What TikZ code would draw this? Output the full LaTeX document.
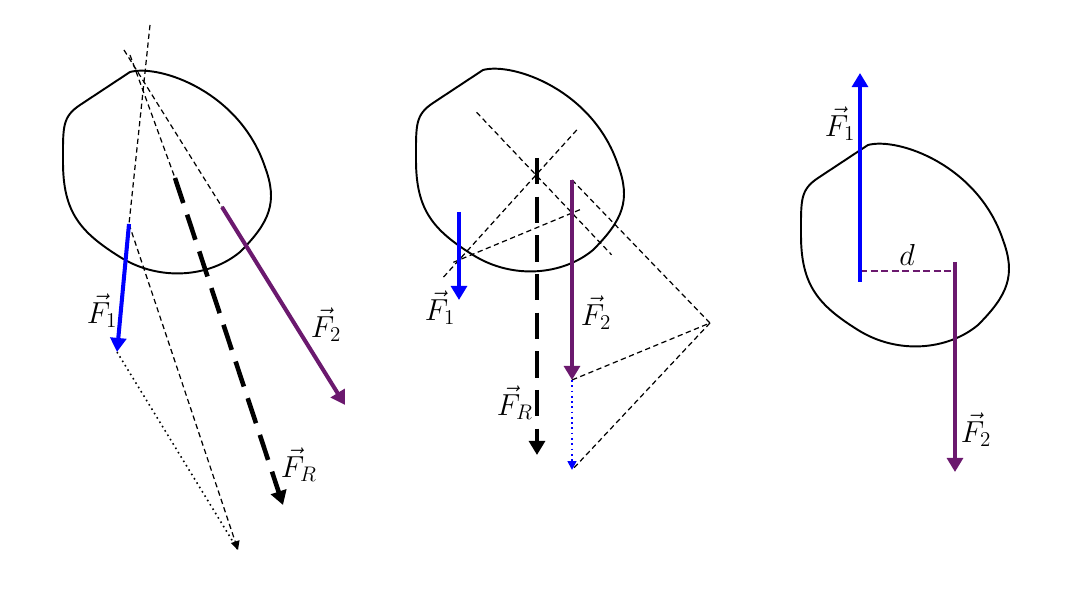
\documentclass[tikz,border=0pt]{standalone}
\usepackage{amsmath}
\usepackage{tikz}
\usetikzlibrary{arrows.meta}
\usetikzlibrary{calc}
\tikzset{body/.style = {line width = 1.1pt, line join = round}}
\tikzset{force/.style = {line width = 2.3pt, -{Triangle[length = 8pt, width = 9pt]}}}
\tikzset{resultant/.style = {force, line width = 2.6pt, dash pattern = on 15pt off 7pt}}
\tikzset{aux/.style = {line width = 0.7pt, dash pattern = on 3pt off 2pt}}
\tikzset{smalltip/.style = {-{Triangle[length = 5pt, width = 5pt]}}}
\tikzset{lbl/.style = {font = \LARGE, inner sep = 0}}
\definecolor{fblue}{rgb}{0, 0, 1}
\definecolor{fpurple}{rgb}{0.42, 0.1, 0.43}
\newcommand{\bodyoutline}{(0, 0) .. controls (30, -8) and (110, 20) .. (135, 95)
  .. controls (148, 130) and (140, 150) .. (110, 180)
  .. controls (80, 205) and (30, 210) .. (-10, 185)
  .. controls (-50, 160) and (-67, 140) .. (-67, 90)
  .. controls (-67, 55) and (-68, 45) .. (-50, 33) -- cycle}

\begin{document}
\begin{tikzpicture}[x = 0.02cm, y = -0.02cm]
    \useasboundingbox (0, 0) rectangle (1080, 591);

    \begin{scope}[shift = {(130, 72)}]
      \draw [body] \bodyoutline;
    \end{scope}
    \coordinate (ta) at (129, 224);
    \coordinate (ha) at (117, 352);
    \coordinate (tb) at (222, 207);
    \coordinate (hb) at (345, 405);
    \coordinate (tr) at (175, 178);
    \coordinate (hr) at (283, 505);
    \coordinate (sum) at (238, 550);
    \coordinate (ea) at (150, 25);
    \coordinate (eb) at (124, 50);
    \coordinate (er) at (130, 55);
    \draw [aux] (ea) -- (ta);
    \draw [aux] (eb) -- (tb);
    \draw [aux] (er) -- (tr);
    \draw [aux, smalltip] (ta) -- (sum);
    \draw [dotted, line width = 0.9pt] (ha) -- (sum);
    \draw [force, fblue] (ta) -- (ha);
    \draw [force, fpurple] (tb) -- (hb);
    \draw [resultant] (tr) -- (hr);
    \node [lbl] (la) at (102, 311) {$\vec{F}_1$};
    \node [lbl] (lb) at (326, 325) {$\vec{F}_2$};
    \node [lbl] (lr) at (299, 465) {$\vec{F}_R$};

    \begin{scope}[shift = {(483, 70)}]
      \draw [body] \bodyoutline;
    \end{scope}
    \coordinate (pa) at (459, 212);
    \coordinate (qa) at (459, 300);
    \coordinate (pb) at (572, 180);
    \coordinate (qb) at (572, 380);
    \coordinate (pr) at (537, 158);
    \coordinate (qr) at (537, 455);
    \coordinate (qs) at (572, 470);
    \coordinate (pole) at (710, 323);
    \coordinate (ka) at (536, 175);
    \coordinate (kb) at (572, 213);
    \coordinate (kc) at (459, 260);
    \draw [aux] ($(ka)!-1.65!(kb)$) -- ($(ka)!2.1!(kb)$);
    \draw [aux] ($(ka)!-0.53!(kc)$) -- ($(ka)!1.22!(kc)$);
    \draw [aux] ($(kc)!-0.05!(kb)$) -- ($(kc)!1.07!(kb)$);
    \draw [aux] (pb) -- (pole) -- (qb);
    \draw [aux] (pole) -- (qs);
    \draw [dotted, fblue, line width = 1pt, smalltip] (qb) -- (qs);
    \draw [force, fblue] (pa) -- (qa);
    \draw [force, fpurple] (pb) -- (qb);
    \draw [resultant] (pr) -- (qr);
    \node [lbl] (ma) at (440, 308) {$\vec{F}_1$};
    \node [lbl] (mb) at (596, 313) {$\vec{F}_2$};
    \node [lbl] (mr) at (515, 403) {$\vec{F}_R$};

    \begin{scope}[shift = {(868, 145)}]
      \draw [body] \bodyoutline;
    \end{scope}
    \coordinate (ua) at (860, 282);
    \coordinate (va) at (860, 73);
    \coordinate (ub) at (955, 262);
    \coordinate (vb) at (955, 472);
    \coordinate (da) at (860, 271);
    \coordinate (db) at (955, 271);
    \draw [fpurple, line width = 0.9pt, dash pattern = on 4pt off 2pt] (da) -- (db);
    \draw [force, fblue] (ua) -- (va);
    \draw [force, fpurple] (ub) -- (vb);
    \node [lbl] (dist) at (907, 255) {$d$};
    \node [lbl] (na) at (840, 124) {$\vec{F}_1$};
    \node [lbl] (nb) at (976, 430) {$\vec{F}_2$};
  \end{tikzpicture}
\end{document}
